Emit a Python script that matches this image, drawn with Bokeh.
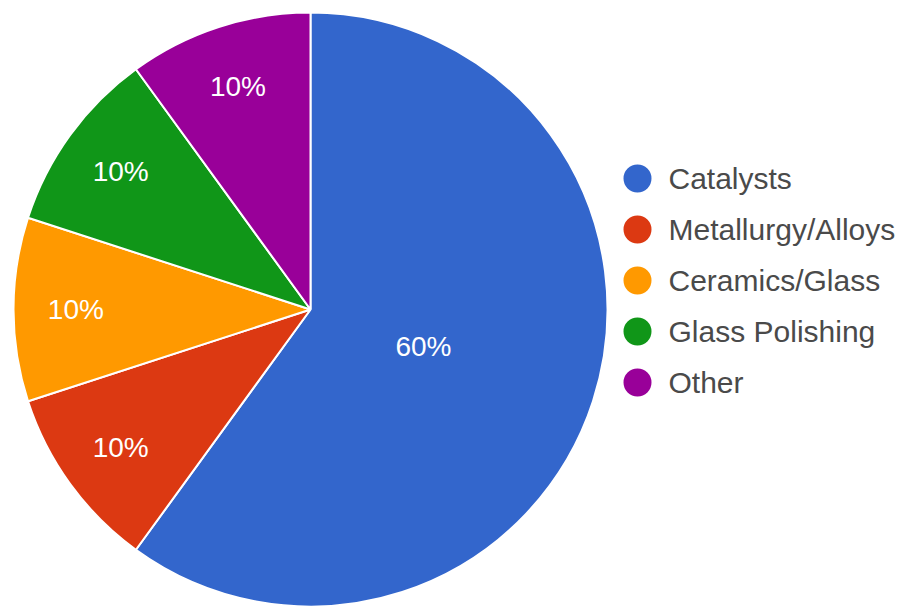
import math
from bokeh.plotting import figure
from bokeh.models import Range1d, ColumnDataSource
from bokeh.core.properties import value
from bokeh.embed import file_html
from bokeh.resources import INLINE

categories = ["Catalysts", "Metallurgy/Alloys", "Ceramics/Glass", "Glass Polishing", "Other"]
shares = [60, 10, 10, 10, 10]
colors = ["#3366cc", "#dc3912", "#ff9900", "#109618", "#990099"]

W, H = 911, 607
cx, cy, R = 310, H - 309, 297

p = figure(width=W, height=H, output_backend="svg", toolbar_location=None,
           x_range=Range1d(0, W), y_range=Range1d(0, H), min_border=0)
p.axis.visible = False
p.grid.visible = False
p.outline_line_color = None
p.background_fill_color = "white"

total = sum(shares)
starts, ends, lx, ly, labels = [], [], [], [], []
a = math.pi / 2
for s in shares:
    span = 2 * math.pi * s / total
    starts.append(a)
    ends.append(a - span)
    mid = a - span / 2
    frac = 0.40 if s / total >= 0.5 else 0.79
    lx.append(cx + R * frac * math.cos(mid))
    ly.append(cy + R * frac * math.sin(mid))
    labels.append(f"{round(100 * s / total)}%")
    a -= span

src = ColumnDataSource(dict(start=starts, end=ends, color=colors))
p.wedge(x=cx, y=cy, radius=R, radius_units="screen", start_angle="start", end_angle="end",
        direction="clock", fill_color="color", line_color="white", line_width=2, source=src)

p.text(x=lx, y=ly, text=labels, text_color="white", text_font=value("Liberation Sans"),
       text_font_size="28px", text_align="center", text_baseline="middle")

# legend
leg_y = [H - (178 + 51 * i) for i in range(len(categories))]
p.scatter(x=[637] * len(categories), y=leg_y, size=28, marker="circle",
          fill_color=colors, line_color=None)
p.text(x=[668] * len(categories), y=leg_y, text=categories, text_color="#4a4a4a",
       text_font=value("Liberation Sans"), text_font_size="30px",
       text_align="left", text_baseline="middle")

open("out.html", "w").write(file_html(p, INLINE))
